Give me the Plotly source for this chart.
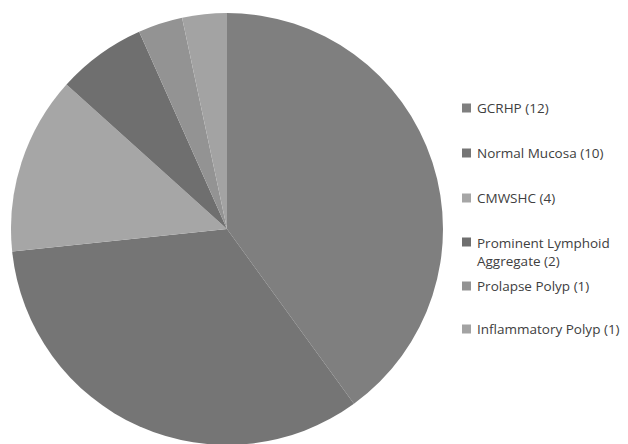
import plotly.graph_objects as go

labels = ["GCRHP", "Normal Mucosa", "CMWSHC", "Prominent Lymphoid Aggregate", "Prolapse Polyp", "Inflammatory Polyp"]
legend_text = ["GCRHP (12)", "Normal Mucosa (10)", "CMWSHC (4)", "Prominent Lymphoid<br>Aggregate (2)", "Prolapse Polyp (1)", "Inflammatory Polyp (1)"]
counts = [12, 10, 4, 2, 1, 1]
colors = ["#7f7f7f", "#757575", "#a6a6a6", "#6f6f6f", "#939393", "#a3a3a3"]

W, H = 628, 444
OFF = 8  # page body margin
cx, cy, r = 227 - OFF, 229 - OFF, 216

fig = go.Figure(go.Pie(
    labels=labels, values=counts, sort=False, direction="clockwise", rotation=0,
    marker=dict(colors=colors, line=dict(width=0)),
    textinfo="none", hoverinfo="label+value", showlegend=False,
    domain=dict(x=[(cx - r) / W, (cx + r) / W], y=[1 - (cy + r) / H, 1 - (cy - r) / H]),
))

# manual legend (Excel style spacing)
legend_y = [108, 153, 198, 252, 286, 329]
for txt, col, yc in zip(legend_text, colors, legend_y):
    yc = yc - OFF
    ym = yc - 10 if "<br>" in txt else yc
    fig.add_shape(type="rect", xref="paper", yref="paper",
                  x0=(462 - OFF) / W, x1=(471 - OFF) / W,
                  y0=1 - (ym + 4.5) / H, y1=1 - (ym - 4.5) / H,
                  fillcolor=col, line=dict(width=0))
    fig.add_annotation(xref="paper", yref="paper", x=(475 - OFF) / W, y=1 - yc / H,
                       text=txt, showarrow=False, xanchor="left", yanchor="middle", align="left",
                       font=dict(family="Open Sans", size=13.5, color="#404040"))

fig.update_layout(width=W, height=H, margin=dict(l=0, r=0, t=0, b=0),
                  paper_bgcolor="white", plot_bgcolor="white")
fig.write_html("out.html")
